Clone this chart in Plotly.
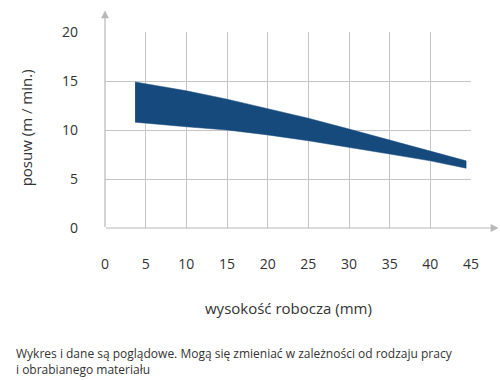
import plotly.graph_objects as go

# band edges (working height mm -> feed m/min)
x_pts = [3.7, 5, 10, 15, 20, 25, 30, 35, 40, 44.4]
upper = [14.9, 14.7, 14.0, 13.15, 12.2, 11.2, 10.1, 8.95, 7.8, 6.85]
lower = [10.8, 10.68, 10.33, 10.0, 9.5, 8.9, 8.25, 7.55, 6.85, 6.1]

x_ticks = [0, 5, 10, 15, 20, 25, 30, 35, 40, 45]
y_ticks = [0, 5, 10, 15, 20]

FONT = "Open Sans"
fig = go.Figure()
fig.add_trace(go.Scatter(x=x_pts + x_pts[::-1], y=upper + lower[::-1],
                         fill="toself", fillcolor="#174a7c", mode="lines",
                         line=dict(color="#174a7c", width=0.5), hoverinfo="skip"))

fig.update_layout(
    width=500, height=380, margin=dict(l=105, r=29, t=32, b=152),
    paper_bgcolor="white", plot_bgcolor="white", showlegend=False,
    font=dict(family=FONT, color="#333333", size=14),
    xaxis=dict(range=[0, 45], tickvals=x_ticks, showgrid=True, gridcolor="#c4c4c4",
               gridwidth=1, zeroline=False, showline=False, ticks="",
               ticklabelstandoff=26, tickfont=dict(size=14, color="#333333")),
    yaxis=dict(range=[0, 20], tickvals=y_ticks, showgrid=True, gridcolor="#c4c4c4",
               gridwidth=1, zeroline=False, showline=False, ticks="",
               ticklabelstandoff=26, tickfont=dict(size=14, color="#333333")),
)
# axis lines with arrows (tail offsets in pixels)
fig.add_annotation(xref="paper", yref="paper", x=1.075, y=0, ax=-394, ay=0,
                   showarrow=True, arrowhead=2,
                   arrowsize=1.3, arrowwidth=1.2, arrowcolor="#b8b8b8", text="")
fig.add_annotation(xref="paper", yref="paper", x=0, y=1.11, ax=0, ay=218,
                   showarrow=True, arrowhead=2,
                   arrowsize=1.3, arrowwidth=1.2, arrowcolor="#b8b8b8", text="")
# axis titles
fig.add_annotation(xref="paper", yref="paper", x=0.5, y=-0.41, xanchor="center",
                   yanchor="middle", showarrow=False, text="wysokość robocza (mm)",
                   font=dict(size=15, color="#333333"))
fig.add_annotation(xref="paper", yref="paper", x=-0.215, y=0.51, xanchor="center",
                   yanchor="middle", showarrow=False, text="posuw (m / min.)",
                   textangle=-90, font=dict(size=15, color="#333333"))
# footnote
fig.add_annotation(xref="paper", yref="paper", x=-0.25, y=-0.585, xanchor="left",
                   yanchor="top", showarrow=False, align="left",
                   text="Wykres i dane są poglądowe. Mogą się zmieniać w zależności od rodzaju pracy<br>i obrabianego materiału",
                   font=dict(size=12, color="#333333"))

fig.write_html("out.html", config={"displayModeBar": False},
               post_script="document.body.style.margin='0';")
